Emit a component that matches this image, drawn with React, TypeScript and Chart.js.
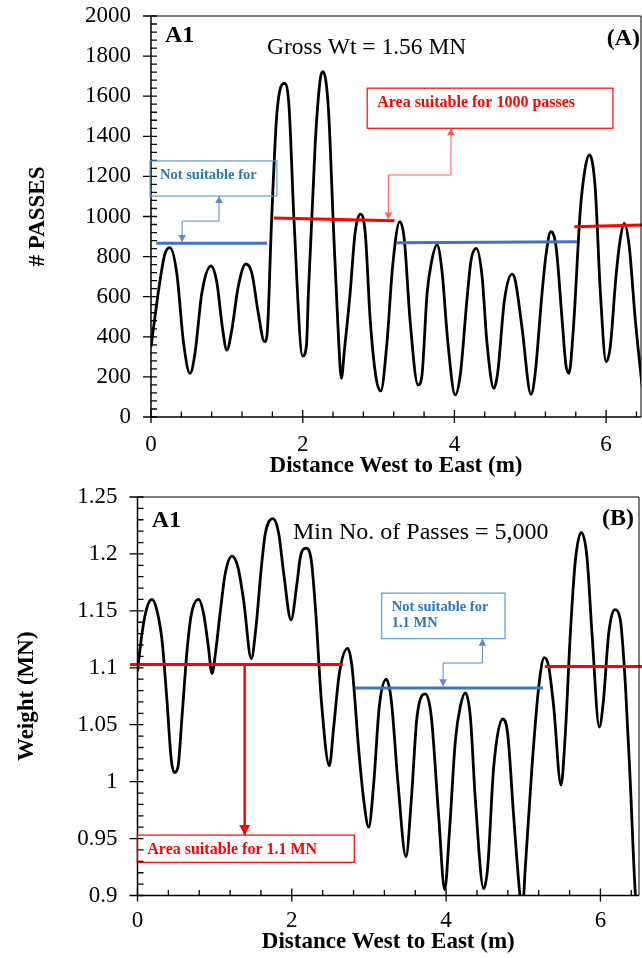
import React, { useEffect, useRef } from 'react';
import { Chart, registerables } from 'chart.js';

Chart.register(...registerables);

const SERIF = "'Liberation Serif', 'Times New Roman', serif";

// ---------------- Panel (A): number of passes ----------------
const distanceA = [0.0, 0.12, 0.185, 0.25, 0.34, 0.43, 0.515, 0.58, 0.67, 0.79, 0.87, 0.94, 1.0, 1.065, 1.15, 1.25, 1.33, 1.415, 1.495, 1.53, 1.59, 1.66, 1.76, 1.82, 1.885, 2.0, 2.05, 2.075, 2.165, 2.23, 2.27, 2.34, 2.405, 2.465, 2.51, 2.55, 2.625, 2.69, 2.76, 2.825, 2.89, 2.965, 3.03, 3.11, 3.185, 3.28, 3.34, 3.415, 3.52, 3.57, 3.64, 3.695, 3.77, 3.835, 3.915, 4.01, 4.08, 4.165, 4.22, 4.29, 4.365, 4.43, 4.52, 4.57, 4.66, 4.76, 4.8, 4.89, 5.01, 5.065, 5.155, 5.21, 5.27, 5.34, 5.42, 5.47, 5.51, 5.57, 5.66, 5.72, 5.78, 5.855, 5.925, 6.0, 6.055, 6.13, 6.185, 6.24, 6.305, 6.385, 6.48];
const passesA = [350, 683, 816, 845, 717, 367, 218, 318, 617, 753, 667, 450, 334, 434, 650, 763, 717, 517, 376, 410, 983, 1515, 1664, 1548, 983, 304, 359, 617, 1365, 1681, 1722, 1531, 949, 450, 193, 334, 617, 916, 1012, 916, 484, 201, 130, 367, 750, 974, 883, 484, 160, 201, 617, 767, 858, 733, 367, 110, 218, 584, 783, 841, 700, 367, 143, 218, 584, 713, 685, 450, 113, 218, 617, 816, 924, 850, 484, 259, 218, 450, 1032, 1232, 1307, 1149, 617, 276, 351, 700, 883, 966, 850, 484, 135];
// threshold segments: [x0, y0, x1, y1]
const blueSegmentsA = [[0.07, 866, 1.53, 866], [3.24, 869, 5.62, 874]];
const redSegmentsA = [[1.62, 992, 3.21, 979], [5.58, 949, 6.6, 959]];

// ---------------- Panel (B): weight ----------------
const distanceB = [0.0, 0.058, 0.123, 0.188, 0.253, 0.318, 0.382, 0.438, 0.482, 0.525, 0.577, 0.642, 0.698, 0.793, 0.858, 0.914, 0.966, 1.009, 1.074, 1.138, 1.225, 1.303, 1.376, 1.475, 1.536, 1.605, 1.657, 1.756, 1.83, 1.895, 1.99, 2.067, 2.11, 2.184, 2.253, 2.314, 2.383, 2.487, 2.543, 2.616, 2.724, 2.78, 2.867, 2.932, 2.997, 3.061, 3.134, 3.225, 3.29, 3.377, 3.48, 3.549, 3.623, 3.731, 3.808, 3.904, 3.982, 4.042, 4.12, 4.184, 4.249, 4.314, 4.379, 4.487, 4.539, 4.617, 4.733, 4.798, 4.876, 4.954, 4.985, 5.027, 5.113, 5.2, 5.273, 5.33, 5.394, 5.489, 5.545, 5.61, 5.675, 5.752, 5.826, 5.891, 5.986, 6.04, 6.107, 6.185, 6.258, 6.323, 6.388, 6.452, 6.49];
const weightB = [1.097, 1.130, 1.153, 1.160, 1.150, 1.124, 1.071, 1.019, 1.008, 1.013, 1.057, 1.115, 1.147, 1.160, 1.147, 1.121, 1.095, 1.112, 1.150, 1.183, 1.198, 1.188, 1.159, 1.108, 1.136, 1.188, 1.218, 1.231, 1.218, 1.183, 1.142, 1.174, 1.197, 1.205, 1.194, 1.145, 1.071, 1.014, 1.048, 1.095, 1.117, 1.101, 1.028, 0.984, 0.960, 0.998, 1.066, 1.090, 1.071, 0.998, 0.934, 0.984, 1.057, 1.077, 1.057, 0.969, 0.905, 0.955, 1.036, 1.066, 1.078, 1.057, 0.984, 0.906, 0.925, 1.013, 1.055, 1.042, 0.969, 0.902, 0.885, 0.925, 1.013, 1.083, 1.109, 1.101, 1.066, 0.997, 1.042, 1.130, 1.194, 1.219, 1.197, 1.130, 1.048, 1.072, 1.130, 1.151, 1.142, 1.086, 0.998, 0.902, 0.88];
const blueSegmentsB = [[2.817, 1.0823, 5.257, 1.0823]];
const redSegmentsB = [[-0.097, 1.1028, 2.666, 1.1028], [5.28, 1.1012, 6.6, 1.1012]];

const BLUE = '#4472C4';
const RED = '#FF0000';

type Pt = [number, number];
interface BoxSpec { x0: number; y0: number; x1: number; y1: number; stroke: string; color: string; size: number; lines: string[]; dy: number[] }
interface LinkSpec { pts: Pt[]; color: string; width: number; head: number; start: boolean; end: boolean }
interface TextSpec { text: string; dx: number; dy: number; size: number; bold: boolean; align: 'left' | 'right' }

interface Panel {
  xs: number[]; ys: number[];
  blue: number[][]; red: number[][];
  xMax: number; yMin: number; yMax: number; yStep: number; yMinor: number; xMinor: number;
  yTitle: string; yTitlePad: number;
  padding: { top: number; right: number; bottom: number; left: number };
  yAxisWidth: number; xAxisHeight: number; xTickPad: number;
  fmt: (v: number) => string;
  boxes: BoxSpec[]; links: LinkSpec[]; texts: TextSpec[];
}

const panelA: Panel = {
  xs: distanceA, ys: passesA, blue: blueSegmentsA, red: redSegmentsA,
  xMax: 6.46, yMin: 0, yMax: 2000, yStep: 200, yMinor: 40, xMinor: 0.4,
  yTitle: '# PASSES', yTitlePad: 24,
  padding: { top: 16, right: 1, bottom: 0, left: 0 },
  yAxisWidth: 151, xAxisHeight: 63, xTickPad: 14,
  fmt: (v) => String(v),
  boxes: [
    { x0: -0.013, y0: 1277, x1: 1.66, y1: 1102, stroke: '#5B9BD5', color: '#2E75B6', size: 14.5, lines: ['Not suitable for'], dy: [14] },
    { x0: 2.85, y0: 1640, x1: 6.09, y1: 1440, stroke: '#FF0000', color: '#FF0000', size: 16, lines: ['Area suitable for 1000 passes'], dy: [15] },
  ],
  links: [
    { pts: [[0.897, 1102], [0.897, 977], [0.41, 977], [0.41, 873]], color: '#5F87CF', width: 1, head: 7, start: true, end: true },
    { pts: [[3.954, 1440], [3.954, 1207], [3.13, 1207], [3.13, 985]], color: '#FF5A5A', width: 1, head: 7, start: true, end: true },
  ],
  texts: [
    { text: 'A1', dx: 14, dy: 26.3, size: 24, bold: true, align: 'left' },
    { text: 'Gross Wt = 1.56 MN', dx: 116, dy: 38, size: 23.5, bold: false, align: 'left' },
    { text: '(A)', dx: -1, dy: 29, size: 24, bold: true, align: 'right' },
  ],
};

const panelB: Panel = {
  xs: distanceB, ys: weightB, blue: blueSegmentsB, red: redSegmentsB,
  xMax: 6.5, yMin: 0.9, yMax: 1.25, yStep: 0.05, yMinor: 0.01, xMinor: 0.4,
  yTitle: 'Weight (MN)', yTitlePad: 13,
  padding: { top: 17, right: 3, bottom: 0, left: 0 },
  yAxisWidth: 137.5, xAxisHeight: 60.5, xTickPad: 11.7,
  fmt: (v) => String(parseFloat(Number(v).toFixed(2))),
  boxes: [
    { x0: 3.165, y0: 1.1656, x1: 4.763, y1: 1.1256, stroke: '#5B9BD5', color: '#2E75B6', size: 14.5, lines: ['Not suitable for', '1.1 MN'], dy: [14, 30.6] },
    { x0: -0.003, y0: 0.9531, x1: 2.81, y1: 0.9291, stroke: '#FF0000', color: '#FF0000', size: 16, lines: ['Area suitable for 1.1 MN'], dy: [15] },
  ],
  links: [
    { pts: [[4.471, 1.1256], [4.471, 1.1042], [3.961, 1.1042], [3.961, 1.0838]], color: '#5F87CF', width: 1, head: 7, start: true, end: true },
    { pts: [[1.389, 1.1028], [1.389, 0.9531]], color: '#FF0000', width: 2.5, head: 10, start: false, end: true },
  ],
  texts: [
    { text: 'A1', dx: 14.2, dy: 29.7, size: 24, bold: true, align: 'left' },
    { text: 'Min No. of Passes = 5,000', dx: 155.5, dy: 42.3, size: 24, bold: false, align: 'left' },
    { text: '(B)', dx: -5, dy: 28, size: 24, bold: true, align: 'right' },
  ],
};

function arrowHead(ctx: CanvasRenderingContext2D, x: number, y: number, fx: number, fy: number, size: number, color: string) {
  const ang = Math.atan2(y - fy, x - fx);
  ctx.save();
  ctx.translate(x, y);
  ctx.rotate(ang);
  ctx.beginPath();
  ctx.moveTo(0, 0);
  ctx.lineTo(-size, -size * 0.55);
  ctx.lineTo(-size, size * 0.55);
  ctx.closePath();
  ctx.fillStyle = color;
  ctx.fill();
  ctx.restore();
}

function makeDecor(p: Panel) {
  return {
    id: 'decor',
    afterDraw(chart: any) {
      const { ctx, chartArea: a, scales } = chart;
      const xs = scales.x, ys = scales.y;
      const X = (v: number) => xs.getPixelForValue(v);
      const Y = (v: number) => ys.getPixelForValue(v);
      ctx.save();
      // frame
      ctx.strokeStyle = '#000';
      ctx.lineWidth = 1;
      ctx.beginPath();
      ctx.moveTo(a.left, a.top);
      ctx.lineTo(a.right, a.top);
      ctx.lineTo(a.right, a.bottom);
      ctx.stroke();
      ctx.lineWidth = 1.5;
      ctx.beginPath();
      ctx.moveTo(a.left, a.top);
      ctx.lineTo(a.left, a.bottom);
      ctx.lineTo(a.right, a.bottom);
      ctx.stroke();
      // ticks
      ctx.lineWidth = 1.3;
      ctx.beginPath();
      for (let i = 0; ; i++) {
        const v = i * p.xMinor;
        if (v > p.xMax + 1e-9) break;
        const px = X(v);
        const major = Math.abs(v / 2 - Math.round(v / 2)) < 1e-6;
        if (major) { ctx.moveTo(px, a.bottom - 7); ctx.lineTo(px, a.bottom + 6); }
        else { ctx.moveTo(px, a.bottom - 5.5); ctx.lineTo(px, a.bottom); }
      }
      for (let i = 0; ; i++) {
        const v = p.yMin + i * p.yMinor;
        if (v > p.yMax + 1e-9) break;
        const py = Y(v);
        const r = v / p.yStep;
        const major = Math.abs(r - Math.round(r)) < 1e-6;
        if (major) { ctx.moveTo(a.left - 8, py); ctx.lineTo(a.left + 6, py); }
        else { ctx.moveTo(a.left, py); ctx.lineTo(a.left + 6, py); }
      }
      ctx.stroke();

      // boxes
      for (const b of p.boxes) {
        const x0 = X(b.x0), x1 = X(b.x1), y0 = Y(b.y0), y1 = Y(b.y1);
        ctx.strokeStyle = b.stroke;
        ctx.lineWidth = 1.2;
        ctx.strokeRect(x0, y0, x1 - x0, y1 - y0);
        ctx.fillStyle = b.color;
        ctx.font = `bold ${b.size}px ${SERIF}`;
        ctx.textAlign = 'left';
        ctx.textBaseline = 'middle';
        b.lines.forEach((t, i) => ctx.fillText(t, x0 + 10, y0 + b.dy[i]));
      }
      // connectors
      for (const l of p.links) {
        const pts = l.pts.map(([x, y]) => [X(x), Y(y)]);
        ctx.strokeStyle = l.color;
        ctx.lineWidth = l.width;
        ctx.beginPath();
        pts.forEach(([x, y], i) => (i === 0 ? ctx.moveTo(x, y) : ctx.lineTo(x, y)));
        ctx.stroke();
        if (l.start) arrowHead(ctx, pts[0][0], pts[0][1], pts[1][0], pts[1][1], l.head, l.color);
        if (l.end) {
          const n = pts.length;
          arrowHead(ctx, pts[n - 1][0], pts[n - 1][1], pts[n - 2][0], pts[n - 2][1], l.head, l.color);
        }
      }
      // header texts
      for (const t of p.texts) {
        ctx.fillStyle = '#000';
        ctx.font = `${t.bold ? 'bold ' : ''}${t.size}px ${SERIF}`;
        ctx.textAlign = t.align;
        ctx.textBaseline = 'alphabetic';
        const x = t.align === 'left' ? a.left + t.dx : a.right + t.dx;
        ctx.fillText(t.text, x, a.top + t.dy);
      }
      ctx.restore();
    },
  };
}

function segDatasets(segs: number[][], color: string) {
  return segs.map((s) => ({
    type: 'line',
    data: [{ x: s[0], y: s[1] }, { x: s[2], y: s[3] }],
    borderColor: color,
    borderWidth: 3,
    pointRadius: 0,
    tension: 0,
    clip: false,
    order: 1,
  }));
}

function buildConfig(p: Panel): any {
  const n = Math.min(p.xs.length, p.ys.length);
  const pts = [];
  for (let i = 0; i < n; i++) pts.push({ x: p.xs[i], y: p.ys[i] });
  return {
    type: 'line',
    data: {
      datasets: [
        {
          data: pts,
          borderColor: '#000',
          borderWidth: 2.8,
          pointRadius: 0,
          cubicInterpolationMode: 'monotone',
          fill: false,
          order: 2,
        },
        ...segDatasets(p.blue, BLUE),
        ...segDatasets(p.red, RED),
      ],
    },
    options: {
      responsive: false,
      animation: false,
      devicePixelRatio: 1,
      layout: { padding: p.padding },
      plugins: { legend: { display: false }, tooltip: { enabled: false } },
      scales: {
        x: {
          type: 'linear',
          min: 0,
          max: p.xMax,
          afterFit: (s: any) => { s.height = p.xAxisHeight; s.paddingLeft = 0; s.paddingRight = 0; },
          grid: { display: false, drawTicks: false, tickLength: 0 },
          border: { display: false },
          ticks: {
            stepSize: 2,
            includeBounds: false,
            autoSkip: false,
            maxRotation: 0,
            padding: p.xTickPad,
            color: '#000',
            font: { family: SERIF, size: 23 },
            callback: (v: number) => (Math.abs(v / 2 - Math.round(v / 2)) < 1e-6 ? String(Math.round(v)) : ''),
          },
          title: {
            display: true,
            text: 'Distance West to East (m)',
            color: '#000',
            font: { family: SERIF, size: 23, weight: 'bold' },
            padding: { top: 0, bottom: 0 },
          },
        },
        y: {
          type: 'linear',
          min: p.yMin,
          max: p.yMax,
          afterFit: (s: any) => { s.width = p.yAxisWidth; s.paddingTop = 0; s.paddingBottom = 0; },
          grid: { display: false, drawTicks: false, tickLength: 0 },
          border: { display: false },
          ticks: {
            stepSize: p.yStep,
            autoSkip: false,
            padding: 20,
            color: '#000',
            font: { family: SERIF, size: 23 },
            callback: (v: number) => p.fmt(v),
          },
          title: {
            display: true,
            text: p.yTitle,
            color: '#000',
            font: { family: SERIF, size: 23, weight: 'bold' },
            padding: { top: p.yTitlePad, bottom: 0 },
          },
        },
      },
    },
    plugins: [makeDecor(p)],
  };
}

export default function App() {
  const topRef = useRef<HTMLCanvasElement>(null);
  const botRef = useRef<HTMLCanvasElement>(null);
  useEffect(() => {
    const charts: Chart[] = [];
    if (topRef.current) charts.push(new Chart(topRef.current, buildConfig(panelA)));
    if (botRef.current) charts.push(new Chart(botRef.current, buildConfig(panelB)));
    return () => charts.forEach((c) => c.destroy());
  }, []);
  return (
    <div style={{ position: 'absolute', left: 0, top: 0, width: 642, height: 958, background: '#fff' }}>
      <canvas ref={topRef} width={642} height={480} style={{ display: 'block', width: 642, height: 480 }} />
      <canvas ref={botRef} width={642} height={476} style={{ display: 'block', width: 642, height: 476 }} />
    </div>
  );
}
